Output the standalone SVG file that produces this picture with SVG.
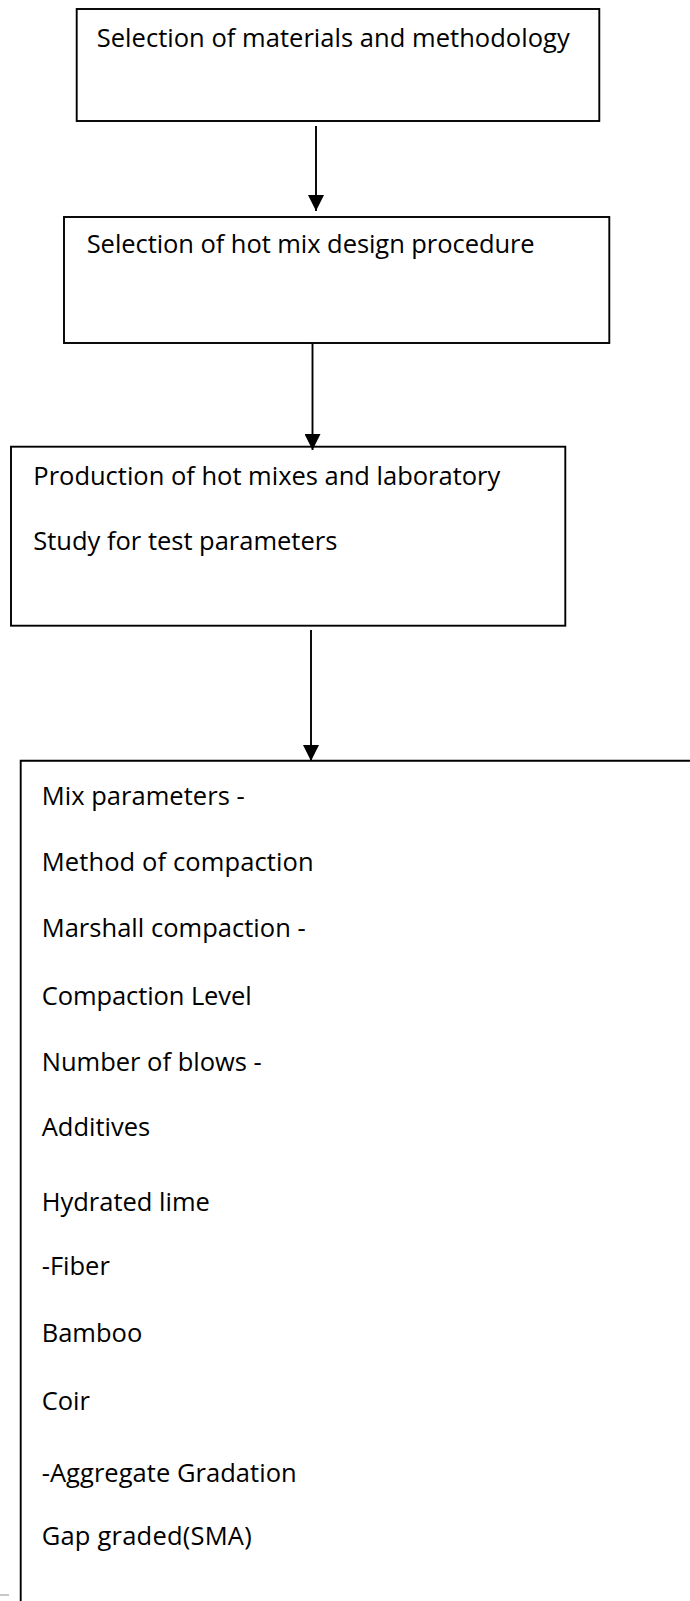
<svg xmlns="http://www.w3.org/2000/svg" width="690" height="1601" viewBox="0 0 690 1601">
<defs>
<style>
.box{fill:none;stroke:#000;stroke-width:1.9}
.conn{stroke:#000;stroke-width:1.9;fill:none}
.t{font-family:"Open Sans","Liberation Sans",sans-serif;font-size:25.5px;fill:#000}
</style>
<marker id="arr" markerUnits="userSpaceOnUse" markerWidth="16" markerHeight="16" viewBox="0 0 16 16" refX="16" refY="8" orient="auto">
<path d="M0,0 L16,8 L0,16 z" fill="#000"/>
</marker>
</defs>
<rect width="690" height="1601" fill="#fff"/>
<g id="node1">
<rect class="box" x="76.7" y="9" width="522.6" height="112"/>
<text class="t" x="96.7" y="46.7" textLength="473">Selection of materials and methodology</text>
</g>
<g id="node2">
<rect class="box" x="64" y="217" width="545.3" height="126"/>
<text class="t" x="86.7" y="253" textLength="448">Selection of hot mix design procedure</text>
</g>
<g id="node3">
<rect class="box" x="11" y="446.7" width="554.3" height="179"/>
<text class="t" x="33.3" y="485" textLength="467">Production of hot mixes and laboratory</text>
<text class="t" x="33.3" y="550" textLength="304">Study for test parameters</text>
</g>
<g id="node4">
<path class="box" d="M20.7,1601 V760.7 H690"/>
<text class="t" x="41.7" y="805" textLength="203">Mix parameters -</text>
<text class="t" x="41.7" y="870.7" textLength="272">Method of compaction</text>
<text class="t" x="41.7" y="936.7" textLength="264">Marshall compaction -</text>
<text class="t" x="41.7" y="1005" textLength="210">Compaction Level</text>
<text class="t" x="41.7" y="1071">Number of blows -</text>
<text class="t" x="41.7" y="1136">Additives</text>
<text class="t" x="41.7" y="1211">Hydrated lime</text>
<text class="t" x="41.7" y="1275">-Fiber</text>
<text class="t" x="41.7" y="1341.7">Bamboo</text>
<text class="t" x="41.7" y="1410">Coir</text>
<text class="t" x="41.7" y="1482" textLength="255">-Aggregate Gradation</text>
<text class="t" x="41.7" y="1545" textLength="210">Gap graded(SMA)</text>
</g>
<g id="connectors">
<line class="conn" x1="316" y1="126" x2="316" y2="211" marker-end="url(#arr)"/>
<line class="conn" x1="312.5" y1="343.5" x2="312.5" y2="450" marker-end="url(#arr)"/>
<line class="conn" x1="311" y1="630" x2="311" y2="761" marker-end="url(#arr)"/>
</g>
<line x1="0" y1="1595" x2="9" y2="1595" stroke="#c8c8c8" stroke-width="2"/>
</svg>
